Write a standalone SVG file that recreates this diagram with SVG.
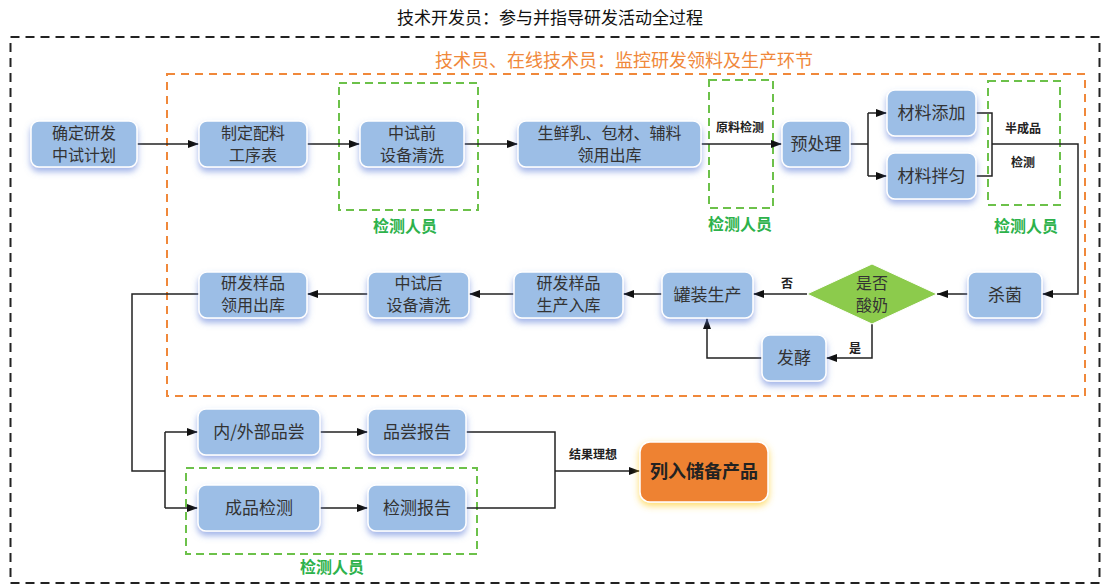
<svg xmlns="http://www.w3.org/2000/svg" width="1104" height="585" viewBox="0 0 1104 585">
<defs>
<style>
text{font-family:"Noto Sans CJK SC","Noto Sans",sans-serif;}
.box{fill:#9CBEE6;stroke:#ffffff;stroke-width:1.5;filter:url(#sh);}
.bt{font-size:17px;fill:#333;text-anchor:middle;}
.b2{font-size:16px;fill:#333;text-anchor:middle;}
.ln{fill:none;stroke:#222;stroke-width:1.5;}
.arr{marker-end:url(#ah);}
.lab{font-size:12px;font-weight:bold;fill:#222;text-anchor:middle;}
.gl{font-size:16px;font-weight:bold;fill:#2DB24B;text-anchor:middle;}
.gd{fill:none;stroke:#6CC14A;stroke-width:2;stroke-dasharray:8 5;}
</style>
<filter id="sh" x="-20%" y="-20%" width="140%" height="160%">
<feGaussianBlur in="SourceAlpha" stdDeviation="3" result="b"/>
<feOffset in="b" dy="4" result="o"/>
<feFlood flood-color="#5577D6" flood-opacity="0.55"/>
<feComposite in2="o" operator="in" result="s"/>
<feMerge><feMergeNode in="s"/><feMergeNode in="SourceGraphic"/></feMerge>
</filter>
<filter id="glow" x="-20%" y="-20%" width="140%" height="160%">
<feGaussianBlur in="SourceAlpha" stdDeviation="3.5" result="b"/>
<feOffset in="b" dy="3" result="o"/>
<feFlood flood-color="#FFD23C" flood-opacity="0.8"/>
<feComposite in2="o" operator="in" result="s"/>
<feMerge><feMergeNode in="s"/><feMergeNode in="SourceGraphic"/></feMerge>
</filter>
<marker id="ah" markerWidth="11" markerHeight="8" refX="11" refY="4" orient="auto" markerUnits="userSpaceOnUse">
<path d="M0,0 L11,4 L0,8 z" fill="#111"/>
</marker>
</defs>
<rect width="1104" height="585" fill="#fff"/>

<g id="frames">
<text x="550" y="24" style="font-size:17px;fill:#111;text-anchor:middle">技术开发员：参与并指导研发活动全过程</text>
<rect x="10.5" y="37" width="1089" height="546" fill="none" stroke="#222" stroke-width="2" stroke-dasharray="9 6"/>
<text x="624" y="67" style="font-size:18px;fill:#F0883A;text-anchor:middle">技术员、在线技术员：监控研发领料及生产环节</text>
<rect x="167" y="74" width="918" height="322" fill="none" stroke="#F0883A" stroke-width="2" stroke-dasharray="8 6"/>
<rect class="gd" x="339" y="83" width="139" height="127"/>
<text class="gl" x="405" y="232">检测人员</text>
<rect class="gd" x="709" y="80" width="64" height="128"/>
<text class="gl" x="740" y="230">检测人员</text>
<rect class="gd" x="988" y="81" width="72" height="124"/>
<text class="gl" x="1026" y="232">检测人员</text>
<rect class="gd" x="186" y="468" width="291" height="86"/>
<text class="gl" x="332" y="573">检测人员</text>
</g>

<g id="connectors">
<path class="ln arr" d="M137,144 H199"/>
<path class="ln arr" d="M307,144 H360"/>
<path class="ln arr" d="M464,144 H518"/>
<path class="ln arr" d="M701,144 H782"/>
<text class="lab" x="740" y="132">原料检测</text>
<path class="ln" d="M850,144 H868 M868,113 V176"/>
<path class="ln arr" d="M868,113 H887"/>
<path class="ln arr" d="M868,176 H887"/>
<path class="ln" d="M976,113 H992 V176 H976"/>
<path class="ln arr" d="M992,144 H1078 V294 H1042"/>
<text class="lab" x="1023" y="133">半成品</text>
<text class="lab" x="1023" y="167">检测</text>
<path class="ln arr" d="M968,294 H937"/>
<path class="ln arr" d="M807,294 H753"/>
<text class="lab" x="787" y="288">否</text>
<path class="ln arr" d="M872,324 V358 H826"/>
<text class="lab" x="855" y="353">是</text>
<path class="ln arr" d="M762,358 H707 V318"/>
<path class="ln arr" d="M662,294 H623"/>
<path class="ln arr" d="M514,294 H469"/>
<path class="ln arr" d="M368,294 H307"/>
<path class="ln" d="M199,294 H132 V471 H165 M165,432 V508"/>
<path class="ln arr" d="M165,432 H198"/>
<path class="ln arr" d="M165,508 H198"/>
<path class="ln arr" d="M320,432 H368"/>
<path class="ln arr" d="M320,508 H368"/>
<path class="ln" d="M466,432 H555 V508 H466"/>
<path class="ln arr" d="M555,471 H640"/>
<text class="lab" x="593" y="459">结果理想</text>
</g>

<g id="n1"><rect class="box" x="31" y="121" width="106" height="46" rx="8"/><text class="b2" x="84" y="138.5">确定研发</text><text class="b2" x="84" y="160.5">中试计划</text></g>
<g id="n2"><rect class="box" x="199" y="121" width="108" height="46" rx="8"/><text class="b2" x="253" y="138.5">制定配料</text><text class="b2" x="253" y="160.5">工序表</text></g>
<g id="n3"><rect class="box" x="360" y="121" width="104" height="46" rx="8"/><text class="b2" x="412" y="138.5">中试前</text><text class="b2" x="412" y="160.5">设备清洗</text></g>
<g id="n4"><rect class="box" x="518" y="121" width="183" height="46" rx="8"/><text class="b2" x="609.5" y="138.5">生鲜乳、包材、辅料</text><text class="b2" x="609.5" y="160.5">领用出库</text></g>
<g id="n5"><rect class="box" x="782" y="121" width="68" height="46" rx="8"/><text class="bt" x="816" y="150">预处理</text></g>
<g id="n6"><rect class="box" x="887" y="90" width="89" height="46" rx="8"/><text class="bt" x="931.5" y="119">材料添加</text></g>
<g id="n7"><rect class="box" x="887" y="153" width="89" height="46" rx="8"/><text class="bt" x="931.5" y="182">材料拌匀</text></g>
<g id="n8"><rect class="box" x="968" y="272" width="74" height="46" rx="8"/><text class="bt" x="1005" y="301">杀菌</text></g>
<g id="n9"><polygon points="807,294 872,264 937,294 872,324" fill="#8CCB4C" stroke="#ffffff" stroke-width="1"/><text class="b2" x="872" y="288.5">是否</text><text class="b2" x="872" y="310.5">酸奶</text></g>
<g id="n10"><rect class="box" x="662" y="272" width="91" height="46" rx="8"/><text class="bt" x="707.5" y="301">罐装生产</text></g>
<g id="n11"><rect class="box" x="762" y="335" width="64" height="46" rx="8"/><text class="bt" x="794" y="364">发酵</text></g>
<g id="n12"><rect class="box" x="514" y="272" width="109" height="46" rx="8"/><text class="b2" x="568.5" y="288.5">研发样品</text><text class="b2" x="568.5" y="310.5">生产入库</text></g>
<g id="n13"><rect class="box" x="368" y="272" width="101" height="46" rx="8"/><text class="b2" x="418.5" y="288.5">中试后</text><text class="b2" x="418.5" y="310.5">设备清洗</text></g>
<g id="n14"><rect class="box" x="199" y="272" width="108" height="46" rx="8"/><text class="b2" x="253" y="288.5">研发样品</text><text class="b2" x="253" y="310.5">领用出库</text></g>
<g id="n15"><rect class="box" x="198" y="409" width="122" height="46" rx="8"/><text class="bt" x="259" y="438">内/外部品尝</text></g>
<g id="n16"><rect class="box" x="368" y="409" width="98" height="46" rx="8"/><text class="bt" x="417" y="438">品尝报告</text></g>
<g id="n17"><rect class="box" x="198" y="485" width="122" height="46" rx="8"/><text class="bt" x="259" y="514">成品检测</text></g>
<g id="n18"><rect class="box" x="368" y="485" width="98" height="46" rx="8"/><text class="bt" x="417" y="514">检测报告</text></g>
<g id="n19"><rect x="640" y="442" width="128" height="60" rx="10" fill="#EE8230" stroke="#ffffff" stroke-width="1.5" filter="url(#glow)"/><text x="704" y="478" style="font-size:18px;font-weight:bold;fill:#222;text-anchor:middle">列入储备产品</text></g>
</svg>
